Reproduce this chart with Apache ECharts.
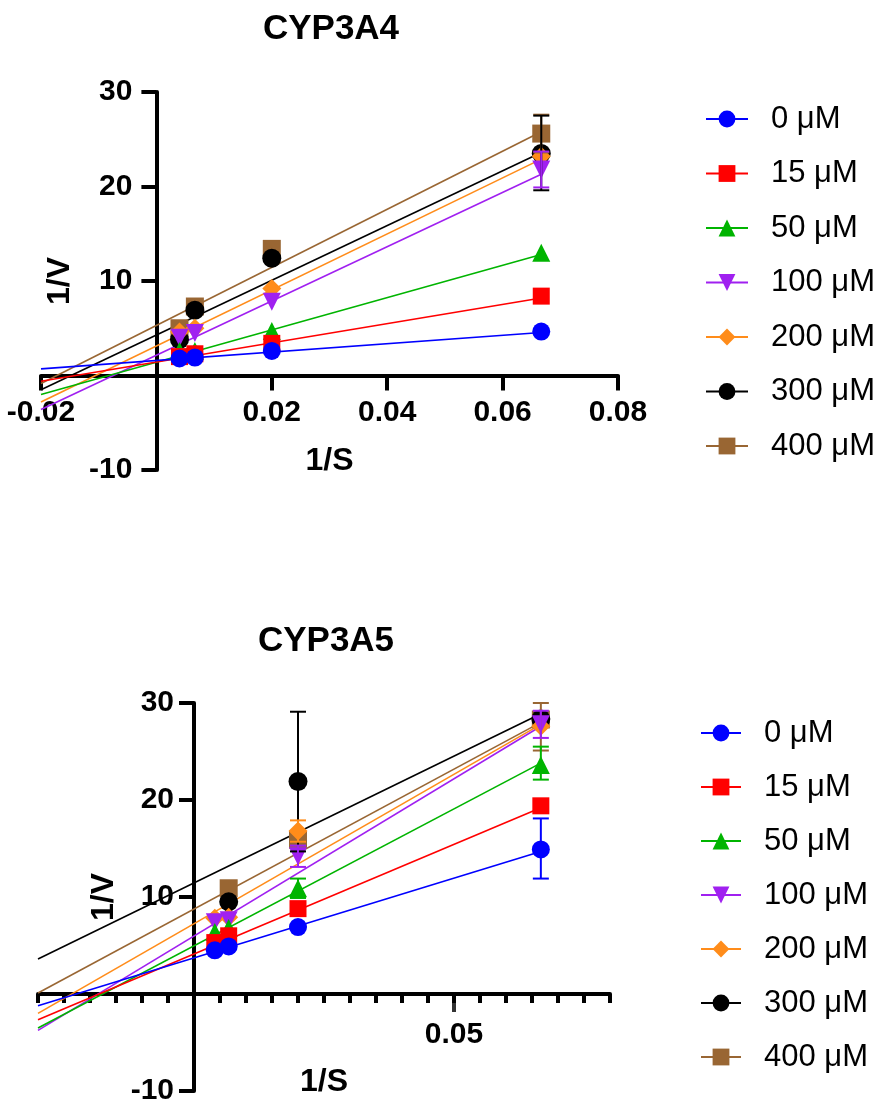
<!DOCTYPE html>
<html><head><meta charset="utf-8">
<script src="https://cdn.jsdelivr.net/npm/echarts@6/dist/echarts.min.js"></script>
<style>html,body{margin:0;padding:0;background:#fff}#c{width:882px;height:1107px}</style>
</head><body><div id="c"></div>
<script>
// ---------- data ----------
const concentrations = ['0 μM','15 μM','50 μM','100 μM','200 μM','300 μM','400 μM'];
const invS = [0.004, 0.00667, 0.02, 0.0667];

// CYP3A4 : 1/V at each 1/S
const a4_0   = [1.8, 1.9, 2.6, 4.65];
const a4_15  = [2.0, 2.3, 3.4, 8.4];
const a4_50  = [2.6, 2.6, 4.7, 13.0];
const a4_100 = [4.0, 4.5, 7.8, 21.8];
const a4_200 = [4.6, 5.0, 9.2, 23.2];
const a4_300 = [3.8, 6.9, 12.4, 23.5];
const a4_400 = [5.0, 7.3, 13.4, 25.6];
// fitted lines: value at the two ends
const a4FitX = [-0.02, 0.0667];
const a4Fit_0   = [0.7, 4.55];
const a4Fit_15  = [-0.6, 8.2];
const a4Fit_50  = [-2.0, 12.8];
const a4Fit_100 = [-3.6, 21.3];
const a4Fit_200 = [-2.8, 22.9];
const a4Fit_300 = [-1.5, 23.6];
const a4Fit_400 = [-0.85, 25.8];
// error bars [1/S, low, high]
const a4Err_100 = [[0.0667, 19.9, 23.7]];
const a4Err_300 = [[0.0667, 19.6, 27.5]];
const a4Err_400 = [[0.0667, 23.6, 27.6]];

// CYP3A5
const a5_0   = [4.5, 4.9, 6.9, 14.9];
const a5_15  = [5.3, 6.0, 8.8, 19.4];
const a5_50  = [6.4, 6.8, 10.9, 23.6];
const a5_100 = [7.4, 7.6, 14.2, 27.8];
const a5_200 = [7.8, 7.9, 16.8, 27.6];
const a5_300 = [null, 9.5, 21.9, 28.35];
const a5_400 = [null, 10.9, 15.9, 28.3];
const a5FitX = [-0.03, 0.0667];
const a5Fit_0   = [-1.2, 14.7];
const a5Fit_15  = [-2.65, 19.2];
const a5Fit_50  = [-3.5, 23.8];
const a5Fit_100 = [-3.75, 27.6];
const a5Fit_200 = [-2.0, 27.8];
const a5Fit_300 = [3.6, 28.9];
const a5Fit_400 = [0.1, 28.0];
const a5Err_0   = [[0.0667, 11.9, 18.1]];
const a5Err_15  = [];
const a5Err_50  = [[0.0667, 22.1, 25.5], [0.02, 9.9, 11.9]];
const a5Err_100 = [[0.0667, 26.4, 29.2], [0.02, 13.1, 15.3]];
const a5Err_200 = [[0.02, 15.7, 17.9]];
const a5Err_300 = [[0.02, 14.7, 29.1]];
const a5Err_400 = [[0.0667, 25.1, 30.0]];

const a4Values = [a4_0, a4_15, a4_50, a4_100, a4_200, a4_300, a4_400];
const a4Fits = [a4Fit_0, a4Fit_15, a4Fit_50, a4Fit_100, a4Fit_200, a4Fit_300, a4Fit_400];
const a4Errs = [[], [], [], a4Err_100, [], a4Err_300, a4Err_400];
const a5Values = [a5_0, a5_15, a5_50, a5_100, a5_200, a5_300, a5_400];
const a5Fits = [a5Fit_0, a5Fit_15, a5Fit_50, a5Fit_100, a5Fit_200, a5Fit_300, a5Fit_400];
const a5Errs = [a5Err_0, a5Err_15, a5Err_50, a5Err_100, a5Err_200, a5Err_300, a5Err_400];

// axis ranges
const a4X = {min:-0.02, max:0.08, interval:0.02};
const a5X = {min:-0.03, max:0.08, interval:0.005};
const yR = {min:-10, max:30, interval:10};

// ---------- style ----------
const colors = ['#0000FF','#FF0000','#00B400','#A020F0','#FF8C1A','#000000','#996633'];
const symbols = ['circle','rect','triangle','triangle','diamond','circle','rect'];
const symbolRot = [0,0,0,180,0,0,0];
const symbolSizes = [18,17,18,18,19,19,18];
const FONT = "'Liberation Sans', Arial, Helvetica, sans-serif";

const grids = [
  {left:41, width:577, top:92, height:378},
  {left:38, width:572, top:703, height:388}
];
// offsets that put each axis line at the other axis' zero
function yOff(g, xr){ return -(0 - xr.min) / (xr.max - xr.min) * g.width; }
function xOff(g, yr){ return -(0 - yr.min) / (yr.max - yr.min) * g.height; }

function errRender(color){
  return function(params, api){
    const x = api.value(0), lo = api.value(1), hi = api.value(2);
    const p1 = api.coord([x, lo]), p2 = api.coord([x, hi]);
    const w = 8;
    const st = {stroke: color, lineWidth: 2};
    return {type:'group', children:[
      {type:'line', shape:{x1:p1[0], y1:p1[1], x2:p2[0], y2:p2[1]}, style:st},
      {type:'line', shape:{x1:p1[0]-w, y1:p1[1], x2:p1[0]+w, y2:p1[1]}, style:st},
      {type:'line', shape:{x1:p2[0]-w, y1:p2[1], x2:p2[0]+w, y2:p2[1]}, style:st}
    ]};
  };
}

const series = [];
function addChart(gi, values, fits, fitX, errs){
  for (let i = 6; i >= 0; i--) {
    series.push({
      type:'line', name: concentrations[i], xAxisIndex: gi, yAxisIndex: gi,
      data: [[fitX[0], fits[i][0]], [fitX[1], fits[i][1]]],
      symbol: symbols[i], symbolRotate: symbolRot[i], symbolSize: symbolSizes[i], showSymbol: false,
      lineStyle: {color: colors[i], width: 1.6}, itemStyle: {color: colors[i]},
      z: 2, silent: true, animation: false
    });
  }
  for (let i = 6; i >= 0; i--) {
    series.push({
      type:'scatter', name: concentrations[i], xAxisIndex: gi, yAxisIndex: gi,
      data: invS.map((x, k) => values[i][k] == null ? null : [x, values[i][k]]).filter(d => d),
      symbol: symbols[i], symbolRotate: symbolRot[i], symbolSize: symbolSizes[i],
      itemStyle: {color: colors[i], opacity: 1}, z: 3, silent: true, animation: false
    });
  }
  for (let i = 6; i >= 0; i--) {
    if (!errs[i].length) continue;
    series.push({
      type:'custom', name: concentrations[i], xAxisIndex: gi, yAxisIndex: gi,
      data: errs[i], renderItem: errRender(colors[i]), encode: {x: 0, y: [1, 2]},
      z: 4, silent: true, animation: false
    });
  }
}
addChart(0, a4Values, a4Fits, a4FitX, a4Errs);
addChart(1, a5Values, a5Fits, a5FitX, a5Errs);
// longer major tick at 0.05 on the CYP3A5 axis
series.push({type:'scatter', xAxisIndex:1, yAxisIndex:1, data:[[0.05, 0]], symbol:'rect',
  symbolSize:[4, 18], symbolOffset:[0, 9], itemStyle:{color:'#000'}, z:1, silent:true, animation:false});

const axisLineStyle = {color:'#000', width:4};
const labelStyle = {color:'#000', fontSize:30, fontWeight:'bold', fontFamily:FONT};
const nameStyle = {color:'#000', fontSize:32, fontWeight:'bold', fontFamily:FONT};
const legendText = {fontSize:31, fontFamily:FONT, color:'#000', lineHeight:32, padding:[0,0,0,18]};

const option = {
  backgroundColor:'#fff',
  animation:false,
  title:[
    {text:'CYP3A4', left:331, top:12, textAlign:'center', padding:0,
     textStyle:{fontSize:35, fontWeight:'bold', fontFamily:FONT, color:'#000'}},
    {text:'CYP3A5', left:326, top:624, textAlign:'center', padding:0,
     textStyle:{fontSize:35, fontWeight:'bold', fontFamily:FONT, color:'#000'}}
  ],
  legend:[
    {data:concentrations, orient:'vertical', left:705, top:103, padding:0,
     itemWidth:42, itemHeight:21, itemGap:22.5, selectedMode:false, textStyle:legendText},
    {data:concentrations, orient:'vertical', left:700, top:717, padding:0,
     itemWidth:40, itemHeight:21, itemGap:22, selectedMode:false, textStyle:legendText}
  ],
  grid: grids.map(g => Object.assign({containLabel:false, outerBoundsMode:'none'}, g)),
  xAxis:[
    {type:'value', gridIndex:0, min:a4X.min, max:a4X.max, interval:a4X.interval,
     offset: xOff(grids[0], yR),
     name:'1/S', nameLocation:'middle', nameGap:70, nameTextStyle:nameStyle,
     axisLine:{onZero:false, lineStyle:axisLineStyle},
     axisTick:{show:true, length:15, lineStyle:{color:'#000', width:4}},
     axisLabel:Object.assign({margin:22, formatter:v => Math.abs(v) < 1e-9 ? '' : String(+v.toFixed(2))}, labelStyle),
     splitLine:{show:false}},
    {type:'value', gridIndex:1, min:a5X.min, max:a5X.max, interval:a5X.interval,
     offset: xOff(grids[1], yR),
     name:'1/S', nameLocation:'middle', nameGap:72, nameTextStyle:nameStyle,
     axisLine:{onZero:false, lineStyle:axisLineStyle},
     axisTick:{show:true, length:9, lineStyle:{color:'#000', width:4}},
     axisLabel:Object.assign({margin:26, formatter:v => Math.abs(v - 0.05) < 1e-9 ? '0.05' : ''}, labelStyle),
     splitLine:{show:false}}
  ],
  yAxis:[
    {type:'value', gridIndex:0, min:yR.min, max:yR.max, interval:yR.interval,
     offset: yOff(grids[0], a4X),
     name:'1/V', nameLocation:'middle', nameGap:80, nameTextStyle:nameStyle,
     axisLine:{show:true, onZero:false, lineStyle:axisLineStyle},
     axisTick:{show:true, length:15, lineStyle:{color:'#000', width:4}},
     axisLabel:Object.assign({margin:24, formatter:v => v === 0 ? '' : String(v)}, labelStyle),
     splitLine:{show:false}},
    {type:'value', gridIndex:1, min:yR.min, max:yR.max, interval:yR.interval,
     offset: yOff(grids[1], a5X),
     name:'1/V', nameLocation:'middle', nameGap:66, nameTextStyle:nameStyle,
     axisLine:{show:true, onZero:false, lineStyle:axisLineStyle},
     axisTick:{show:true, length:15, lineStyle:{color:'#000', width:4}},
     axisLabel:Object.assign({margin:20, formatter:v => v === 0 ? '' : String(v)}, labelStyle),
     splitLine:{show:false}}
  ],
  series: series
};
const chart = echarts.init(document.getElementById('c'), null, {renderer:'canvas'});
chart.setOption(option);
</script></body></html>
